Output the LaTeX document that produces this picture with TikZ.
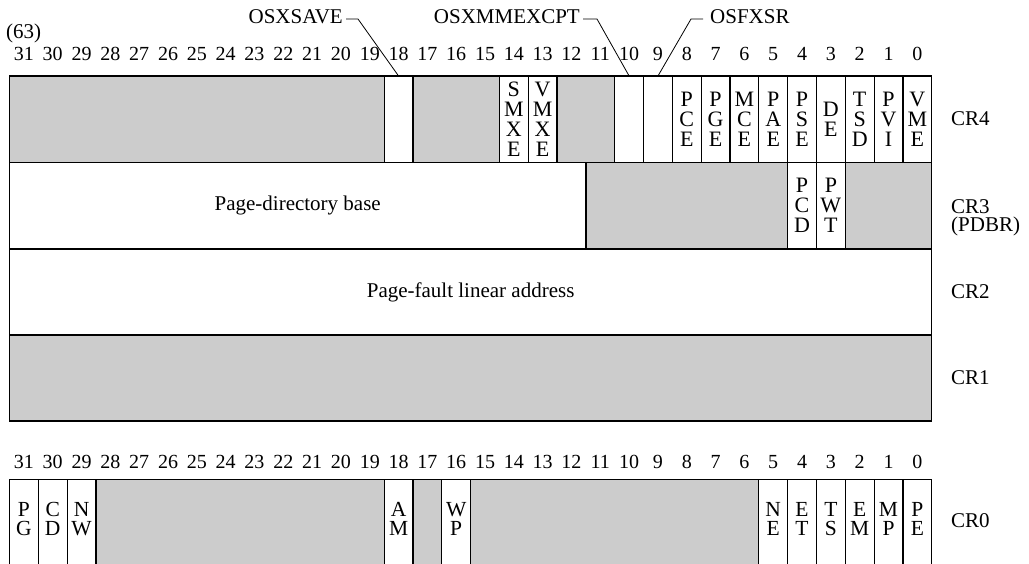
\documentclass[tikz,border=0pt]{standalone}
\usepackage{fontspec}
\setmainfont{Liberation Serif}
\definecolor{cellgray}{RGB}{204,204,204}
\newcommand\lblfont{\fontsize{21}{20}\selectfont}
\newcommand\letfont{\fontsize{22}{20}\selectfont}
\newcommand\letfontb{\fontsize{21.5}{19}\selectfont}
\newcommand\numfont{\fontsize{20}{18}\selectfont}
% name, hi bit, lo bit, top y, height, style, text
\newcommand\regcell[7]{%
  \node[#6, anchor=north west, minimum width={\fpeval{(#2-#3+1)*28.82}pt}, minimum height={#5pt}] (#1) at (\fpeval{9.5+(31-#2)*28.82}, #4) {#7};}
\begin{document}
\begin{tikzpicture}[x=1pt,y=-1pt,
  cell/.style={draw=black, line width=1.2pt, inner sep=0pt, outer sep=0pt, align=center, font=\letfont},
  g/.style={cell, fill=cellgray},
  w/.style={cell, fill=white},
  wt/.style={w, font=\lblfont},
  txt/.style={inner sep=0pt, align=center, font=\lblfont},
  let/.style={inner sep=0pt, align=center, font=\letfontb},
  num/.style={inner sep=0pt, font=\numfont},
  lead/.style={line width=0.8pt}]
\useasboundingbox (0,0) rectangle (1029,564);
\clip (0,0) rectangle (1029,564);

% top labels
\node[txt, anchor=east] (osxsave) at (343,17) {OSXSAVE};
\node[txt, anchor=east] (osxmm) at (580,17) {OSXMMEXCPT};
\node[txt, anchor=west] (osfxsr) at (710,17) {OSFXSR};
\node[txt, anchor=west] (n63) at (6,33) {(63)};

% bit numbers
\foreach \b in {31,...,0} {
  \node[num] (t\b) at ({\fpeval{9.5+(31-\b)*28.82+14.41}},54) {\b};
  \node[num] (u\b) at ({\fpeval{9.5+(31-\b)*28.82+14.41}},462) {\b};
}

% CR4
\regcell{r4a}{31}{19}{76}{86.5}{g}{}
\regcell{r4b18}{18}{18}{76}{86.5}{w}{}
\regcell{r4c}{17}{15}{76}{86.5}{g}{}
\regcell{r4b14}{14}{14}{76}{86.5}{w}{S\\M\\X\\E}
\regcell{r4b13}{13}{13}{76}{86.5}{w}{V\\M\\X\\E}
\regcell{r4d}{12}{11}{76}{86.5}{g}{}
\regcell{r4b10}{10}{10}{76}{86.5}{w}{}
\regcell{r4b9}{9}{9}{76}{86.5}{w}{}
\regcell{r4b8}{8}{8}{76}{86.5}{w}{P\\C\\E}
\regcell{r4b7}{7}{7}{76}{86.5}{w}{P\\G\\E}
\regcell{r4b6}{6}{6}{76}{86.5}{w}{M\\C\\E}
\regcell{r4b5}{5}{5}{76}{86.5}{w}{P\\A\\E}
\regcell{r4b4}{4}{4}{76}{86.5}{w}{P\\S\\E}
\regcell{r4b3}{3}{3}{76}{86.5}{w}{D\\E}
\regcell{r4b2}{2}{2}{76}{86.5}{w}{T\\S\\D}
\regcell{r4b1}{1}{1}{76}{86.5}{w}{P\\V\\I}
\regcell{r4b0}{0}{0}{76}{86.5}{w}{V\\M\\E}

% CR3
\regcell{r3a}{31}{12}{162.5}{86.5}{wt}{Page-directory base}
\regcell{r3b}{11}{5}{162.5}{86.5}{g}{}
\regcell{r3b4}{4}{4}{162.5}{86.5}{w}{P\\C\\D}
\regcell{r3b3}{3}{3}{162.5}{86.5}{w}{P\\W\\T}
\regcell{r3c}{2}{0}{162.5}{86.5}{g}{}

% CR2
\regcell{r2}{31}{0}{249}{86}{wt}{Page-fault linear address}
% CR1
\regcell{r1}{31}{0}{335}{86}{g}{}

% CR0
\regcell{r0b31}{31}{31}{479.3}{95}{w}{}
\regcell{r0b30}{30}{30}{479.3}{95}{w}{}
\regcell{r0b29}{29}{29}{479.3}{95}{w}{}
\regcell{r0a}{28}{19}{479.3}{95}{g}{}
\regcell{r0b18}{18}{18}{479.3}{95}{w}{}
\regcell{r0b17}{17}{17}{479.3}{95}{g}{}
\regcell{r0b16}{16}{16}{479.3}{95}{w}{}
\regcell{r0c}{15}{6}{479.3}{95}{g}{}
\regcell{r0b5}{5}{5}{479.3}{95}{w}{}
\regcell{r0b4}{4}{4}{479.3}{95}{w}{}
\regcell{r0b3}{3}{3}{479.3}{95}{w}{}
\regcell{r0b2}{2}{2}{479.3}{95}{w}{}
\regcell{r0b1}{1}{1}{479.3}{95}{w}{}
\regcell{r0b0}{0}{0}{479.3}{95}{w}{}
\foreach \c/\t in {31/P\\G, 30/C\\D, 29/N\\W, 18/A\\M, 16/W\\P, 5/N\\E, 4/E\\T, 3/T\\S, 2/E\\M, 1/M\\P, 0/P\\E} {
  \node[let] (l\c) at ([yshift=8pt]r0b\c.center) {\t};
}

% register names
\node[txt, anchor=west] (cr4) at (951,119) {CR4};
\node[txt, anchor=west, align=left, font=\fontsize{21}{18}\selectfont] (cr3) at (951,218) {CR3\\(PDBR)};
\node[txt, anchor=west] (cr2) at (951,292) {CR2};
\node[txt, anchor=west] (cr1) at (951,378) {CR1};
\node[txt, anchor=west] (cr0) at (951,521) {CR0};

% leaders
\draw[lead] ([xshift=3pt,yshift=-2pt]osxsave.east) -- ++(12,0) -- (r4b18.north);
\draw[lead] ([xshift=3pt,yshift=-2pt]osxmm.east) -- ++(14,0) -- (r4b10.north);
\draw[lead] ([xshift=-7pt,yshift=-2pt]osfxsr.west) -- ++(-12,0) -- (r4b9.north);
\end{tikzpicture}
\end{document}
